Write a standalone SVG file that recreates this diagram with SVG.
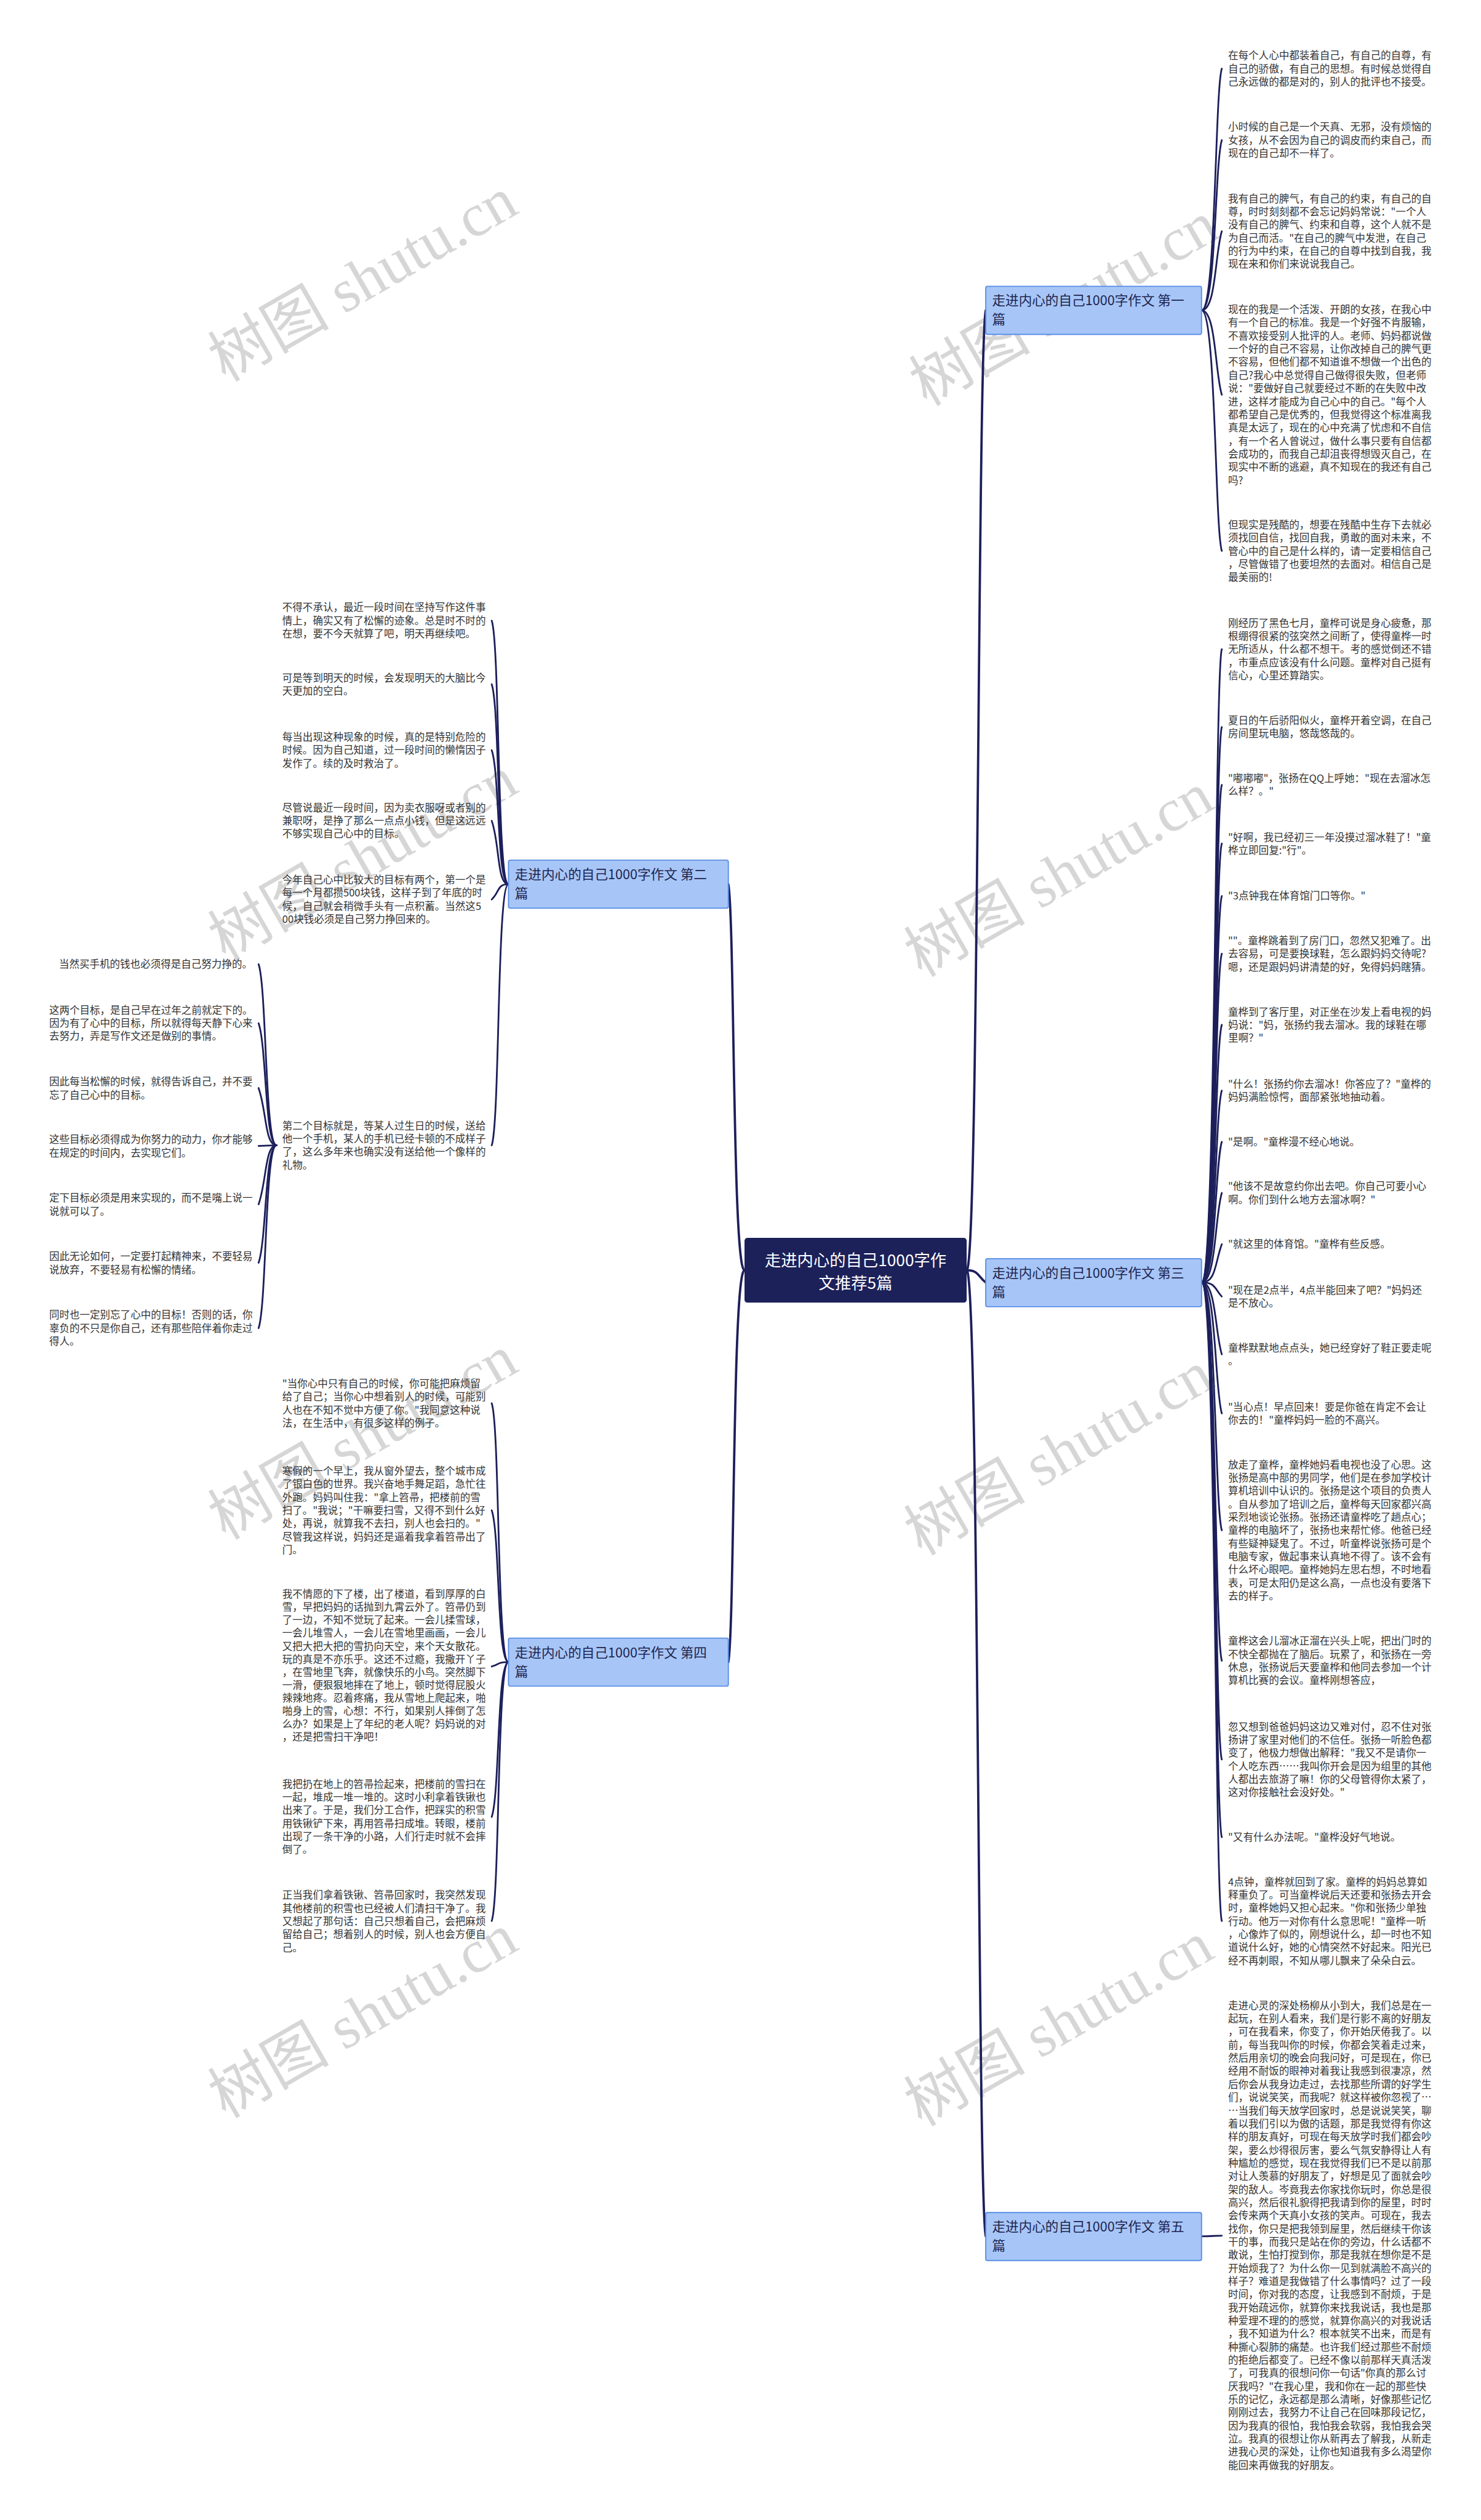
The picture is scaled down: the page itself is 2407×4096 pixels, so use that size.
<svg xmlns="http://www.w3.org/2000/svg" width="2407" height="4096" viewBox="0 0 2407 4096">
<style>
.t{font-family:"Noto Sans CJK SC","Noto Sans",sans-serif;font-size:17.6px;fill:#333333}
.bn{fill:#a7c6f7;stroke:#5a8ee6;stroke-width:2}
.bt{font-family:"Noto Sans CJK SC","Noto Sans",sans-serif;font-size:23px;fill:#1e2550}
.ct{font-family:"Noto Sans CJK SC","Noto Sans",sans-serif;font-size:28px;fill:#ffffff}
.c{fill:none;stroke:#1c1f5a;stroke-width:3;stroke-linecap:round}
.cm{fill:none;stroke:#1c1f5a;stroke-width:4;stroke-linecap:round}
.wm{font-family:"Liberation Serif","Noto Sans CJK SC",serif;font-size:105px;fill:#d6d6d6}
</style>
<rect width="2407" height="4096" fill="#ffffff"/>
<g transform="scale(0.9402)">
<g id="watermarks">
<text class="wm" text-anchor="middle" transform="translate(645,514) rotate(-30)">树图 shutu.cn</text>
<text class="wm" text-anchor="middle" transform="translate(1857,556) rotate(-30)">树图 shutu.cn</text>
<text class="wm" text-anchor="middle" transform="translate(645,1515) rotate(-30)">树图 shutu.cn</text>
<text class="wm" text-anchor="middle" transform="translate(1848,1543) rotate(-30)">树图 shutu.cn</text>
<text class="wm" text-anchor="middle" transform="translate(645,2516) rotate(-30)">树图 shutu.cn</text>
<text class="wm" text-anchor="middle" transform="translate(1848,2543) rotate(-30)">树图 shutu.cn</text>
<text class="wm" text-anchor="middle" transform="translate(645,3516) rotate(-30)">树图 shutu.cn</text>
<text class="wm" text-anchor="middle" transform="translate(1848,3530) rotate(-30)">树图 shutu.cn</text>
</g>
<g id="connectors">
<path class="cm" d="M1671 2196 C1692 2196 1690 596.5 1704 536.5"/>
<path class="cm" d="M1671 2196 C1692 2196 1690 2206.5 1704 2217"/>
<path class="cm" d="M1671 2196 C1692 2196 1690 3806 1704 3866"/>
<path class="cm" d="M1287 2196 C1266 2196 1270 1588.5 1259 1528.5"/>
<path class="cm" d="M1287 2196 C1266 2196 1270 2813.5 1259 2873.5"/>
<path class="c" d="M2077 536.5 C2102 536.5 2100 158.7 2112 118.7"/>
<path class="c" d="M2077 536.5 C2102 536.5 2100 282.3 2112 242.3"/>
<path class="c" d="M2077 536.5 C2102 536.5 2100 439.8 2112 399.8"/>
<path class="c" d="M2077 536.5 C2102 536.5 2100 642.5 2112 682.5"/>
<path class="c" d="M2077 536.5 C2102 536.5 2100 912.4 2112 952.4"/>
<path class="c" d="M2077 2217 C2102 2217 2100 1162.4 2112 1122.4"/>
<path class="c" d="M2077 2217 C2102 2217 2100 1296.9 2112 1256.9"/>
<path class="c" d="M2077 2217 C2102 2217 2100 1396.9 2112 1356.9"/>
<path class="c" d="M2077 2217 C2102 2217 2100 1498.4 2112 1458.4"/>
<path class="c" d="M2077 2217 C2102 2217 2100 1589 2112 1549"/>
<path class="c" d="M2077 2217 C2102 2217 2100 1688.7 2112 1648.7"/>
<path class="c" d="M2077 2217 C2102 2217 2100 1811.7 2112 1771.7"/>
<path class="c" d="M2077 2217 C2102 2217 2100 1925.4 2112 1885.4"/>
<path class="c" d="M2077 2217 C2102 2217 2100 2014 2112 1974"/>
<path class="c" d="M2077 2217 C2102 2217 2100 2102.4 2112 2062.4"/>
<path class="c" d="M2077 2217 C2102 2217 2100 2184 2112 2151"/>
<path class="c" d="M2077 2217 C2102 2217 2100 2229.2 2112 2241.4"/>
<path class="c" d="M2077 2217 C2102 2217 2100 2301.4 2112 2341.4"/>
<path class="c" d="M2077 2217 C2102 2217 2100 2403.4 2112 2443.4"/>
<path class="c" d="M2077 2217 C2102 2217 2100 2605.5 2112 2645.5"/>
<path class="c" d="M2077 2217 C2102 2217 2100 2831 2112 2871"/>
<path class="c" d="M2077 2217 C2102 2217 2100 3001.8 2112 3041.8"/>
<path class="c" d="M2077 2217 C2102 2217 2100 3136 2112 3176"/>
<path class="c" d="M2077 2217 C2102 2217 2100 3281 2112 3321"/>
<path class="c" d="M2077 3866 C2095 3866 2100 3865 2112 3865"/>
<path class="c" d="M879 1528.5 C859 1528.5 864 1113 850 1073"/>
<path class="c" d="M879 1528.5 C859 1528.5 864 1223 850 1183"/>
<path class="c" d="M879 1528.5 C859 1528.5 864 1337 850 1297"/>
<path class="c" d="M879 1528.5 C859 1528.5 864 1459 850 1419"/>
<path class="c" d="M879 1528.5 C859 1528.5 864 1541.8 850 1555"/>
<path class="c" d="M879 1528.5 C859 1528.5 864 1940 850 1980"/>
<path class="c" d="M478 1980 C458 1980 461 1707 447 1667"/>
<path class="c" d="M478 1980 C458 1980 461 1809 447 1769"/>
<path class="c" d="M478 1980 C458 1980 461 1921 447 1881"/>
<path class="c" d="M478 1980 C458 1980 461 1981 447 1981"/>
<path class="c" d="M478 1980 C458 1980 461 2042 447 2082"/>
<path class="c" d="M478 1980 C458 1980 461 2143 447 2183"/>
<path class="c" d="M478 1980 C458 1980 461 2256 447 2296"/>
<path class="c" d="M879 2873.5 C859 2873.5 864 2466 850 2426"/>
<path class="c" d="M879 2873.5 C859 2873.5 864 2651 850 2611"/>
<path class="c" d="M879 2873.5 C859 2873.5 864 2877 850 2881"/>
<path class="c" d="M879 2873.5 C859 2873.5 864 3101 850 3141"/>
<path class="c" d="M879 2873.5 C859 2873.5 864 3281 850 3321"/>
</g>
<g id="root">
<rect x="1287" y="2140" width="384" height="112" rx="5" fill="#1c2159"/>
<text class="ct" text-anchor="middle" x="1479" y="2189">走进内心的自己1000字作</text>
<text class="ct" text-anchor="middle" x="1479" y="2228">文推荐5篇</text>
</g>
<g id="b1">
<rect class="bn" x="1704" y="495" width="373" height="83" rx="3"/>
<text class="bt" x="1715" y="528">走进内心的自己1000字作文 第一</text>
<text class="bt" x="1715" y="561">篇</text>
</g>
<g id="b2">
<rect class="bn" x="879" y="1487" width="380" height="83" rx="3"/>
<text class="bt" x="890" y="1520">走进内心的自己1000字作文 第二</text>
<text class="bt" x="890" y="1553">篇</text>
</g>
<g id="b3">
<rect class="bn" x="1704" y="2176" width="373" height="83" rx="3"/>
<text class="bt" x="1715" y="2209">走进内心的自己1000字作文 第三</text>
<text class="bt" x="1715" y="2242">篇</text>
</g>
<g id="b4">
<rect class="bn" x="879" y="2832" width="380" height="83" rx="3"/>
<text class="bt" x="890" y="2865">走进内心的自己1000字作文 第四</text>
<text class="bt" x="890" y="2898">篇</text>
</g>
<g id="b5">
<rect class="bn" x="1704" y="3825" width="373" height="83" rx="3"/>
<text class="bt" x="1715" y="3858">走进内心的自己1000字作文 第五</text>
<text class="bt" x="1715" y="3891">篇</text>
</g>
<g id="a1"><text class="t" y="102.5"><tspan x="2123">在每个人心中都装着自己，有自己的自尊，有</tspan><tspan x="2123" dy="22.7">自己的骄傲，有自己的思想。有时候总觉得自</tspan><tspan x="2123" dy="22.7">己永远做的都是对的，别人的批评也不接受。</tspan></text></g>
<g id="a2"><text class="t" y="226"><tspan x="2123">小时候的自己是一个天真、无邪，没有烦恼的</tspan><tspan x="2123" dy="22.7">女孩，从不会因为自己的调皮而约束自己，而</tspan><tspan x="2123" dy="22.7">现在的自己却不一样了。</tspan></text></g>
<g id="a3"><text class="t" y="349.5"><tspan x="2123">我有自己的脾气，有自己的约束，有自己的自</tspan><tspan x="2123" dy="22.7">尊，时时刻刻都不会忘记妈妈常说："一个人</tspan><tspan x="2123" dy="22.7">没有自己的脾气、约束和自尊，这个人就不是</tspan><tspan x="2123" dy="22.7">为自己而活。"在自己的脾气中发泄，在自己</tspan><tspan x="2123" dy="22.7">的行为中约束，在自己的自尊中找到自我，我</tspan><tspan x="2123" dy="22.7">现在来和你们来说说我自己。</tspan></text></g>
<g id="a4"><text class="t" y="541.5"><tspan x="2123">现在的我是一个活泼、开朗的女孩，在我心中</tspan><tspan x="2123" dy="22.7">有一个自己的标准。我是一个好强不肯服输，</tspan><tspan x="2123" dy="22.7">不喜欢接受别人批评的人。老师、妈妈都说做</tspan><tspan x="2123" dy="22.7">一个好的自己不容易，让你改掉自己的脾气更</tspan><tspan x="2123" dy="22.7">不容易，但他们都不知道谁不想做一个出色的</tspan><tspan x="2123" dy="22.7">自己?我心中总觉得自己做得很失败，但老师</tspan><tspan x="2123" dy="22.7">说："要做好自己就要经过不断的在失败中改</tspan><tspan x="2123" dy="22.7">进，这样才能成为自己心中的自己。"每个人</tspan><tspan x="2123" dy="22.7">都希望自己是优秀的，但我觉得这个标准离我</tspan><tspan x="2123" dy="22.7">真是太远了，现在的心中充满了忧虑和不自信</tspan><tspan x="2123" dy="22.7">，有一个名人曾说过，做什么事只要有自信都</tspan><tspan x="2123" dy="22.7">会成功的，而我自己却沮丧得想毁灭自己，在</tspan><tspan x="2123" dy="22.7">现实中不断的逃避，真不知现在的我还有自己</tspan><tspan x="2123" dy="22.7">吗?</tspan></text></g>
<g id="a5"><text class="t" y="913.5"><tspan x="2123">但现实是残酷的，想要在残酷中生存下去就必</tspan><tspan x="2123" dy="22.7">须找回自信，找回自我，勇敢的面对未来，不</tspan><tspan x="2123" dy="22.7">管心中的自己是什么样的，请一定要相信自己</tspan><tspan x="2123" dy="22.7">，尽管做错了也要坦然的去面对。相信自己是</tspan><tspan x="2123" dy="22.7">最美丽的!</tspan></text></g>
<g id="c1"><text class="t" y="1083.5"><tspan x="2123">刚经历了黑色七月，童桦可说是身心疲惫，那</tspan><tspan x="2123" dy="22.7">根绷得很紧的弦突然之间断了，使得童桦一时</tspan><tspan x="2123" dy="22.7">无所适从，什么都不想干。考的感觉倒还不错</tspan><tspan x="2123" dy="22.7">，市重点应该没有什么问题。童桦对自己挺有</tspan><tspan x="2123" dy="22.7">信心，心里还算踏实。</tspan></text></g>
<g id="c2"><text class="t" y="1252"><tspan x="2123">夏日的午后骄阳似火，童桦开着空调，在自己</tspan><tspan x="2123" dy="22.7">房间里玩电脑，悠哉悠哉的。</tspan></text></g>
<g id="c3"><text class="t" y="1352"><tspan x="2123">"嘟嘟嘟"，张扬在QQ上呼她："现在去溜冰怎</tspan><tspan x="2123" dy="22.7">么样？。"</tspan></text></g>
<g id="c4"><text class="t" y="1453.5"><tspan x="2123">"好啊，我已经初三一年没摸过溜冰鞋了！"童</tspan><tspan x="2123" dy="22.7">桦立即回复:"行"。</tspan></text></g>
<g id="c5"><text class="t" y="1555.5"><tspan x="2123">"3点钟我在体育馆门口等你。"</tspan></text></g>
<g id="c6"><text class="t" y="1632.5"><tspan x="2123">""。童桦跳着到了房门口，忽然又犯难了。出</tspan><tspan x="2123" dy="22.7">去容易，可是要换球鞋，怎么跟妈妈交待呢?</tspan><tspan x="2123" dy="22.7">嗯，还是跟妈妈讲清楚的好，免得妈妈瞎猜。</tspan></text></g>
<g id="c7"><text class="t" y="1755.5"><tspan x="2123">童桦到了客厅里，对正坐在沙发上看电视的妈</tspan><tspan x="2123" dy="22.7">妈说："妈，张扬约我去溜冰。我的球鞋在哪</tspan><tspan x="2123" dy="22.7">里啊？"</tspan></text></g>
<g id="c8"><text class="t" y="1880.5"><tspan x="2123">"什么！张扬约你去溜冰！你答应了？"童桦的</tspan><tspan x="2123" dy="22.7">妈妈满脸惊愕，面部紧张地抽动着。</tspan></text></g>
<g id="c9"><text class="t" y="1980.5"><tspan x="2123">"是啊。"童桦漫不经心地说。</tspan></text></g>
<g id="c10"><text class="t" y="2057.5"><tspan x="2123">"他该不是故意约你出去吧。你自己可要小心</tspan><tspan x="2123" dy="22.7">啊。你们到什么地方去溜冰啊？"</tspan></text></g>
<g id="c11"><text class="t" y="2157.5"><tspan x="2123">"就这里的体育馆。"童桦有些反感。</tspan></text></g>
<g id="c12"><text class="t" y="2236.5"><tspan x="2123">"现在是2点半，4点半能回来了吧？"妈妈还</tspan><tspan x="2123" dy="22.7">是不放心。</tspan></text></g>
<g id="c13"><text class="t" y="2336.5"><tspan x="2123">童桦默默地点点头，她已经穿好了鞋正要走呢</tspan><tspan x="2123" dy="22.7">。</tspan></text></g>
<g id="c14"><text class="t" y="2438.5"><tspan x="2123">"当心点！早点回来！要是你爸在肯定不会让</tspan><tspan x="2123" dy="22.7">你去的！"童桦妈妈一脸的不高兴。</tspan></text></g>
<g id="c15"><text class="t" y="2538.5"><tspan x="2123">放走了童桦，童桦她妈看电视也没了心思。这</tspan><tspan x="2123" dy="22.7">张扬是高中部的男同学，他们是在参加学校计</tspan><tspan x="2123" dy="22.7">算机培训中认识的。张扬是这个项目的负责人</tspan><tspan x="2123" dy="22.7">。自从参加了培训之后，童桦每天回家都兴高</tspan><tspan x="2123" dy="22.7">采烈地谈论张扬。张扬还请童桦吃了趟点心；</tspan><tspan x="2123" dy="22.7">童桦的电脑坏了，张扬也来帮忙修。他爸已经</tspan><tspan x="2123" dy="22.7">有些疑神疑鬼了。不过，听童桦说张扬可是个</tspan><tspan x="2123" dy="22.7">电脑专家，做起事来认真地不得了。该不会有</tspan><tspan x="2123" dy="22.7">什么坏心眼吧。童桦她妈左思右想，不时地看</tspan><tspan x="2123" dy="22.7">表，可是太阳仍是这么高，一点也没有要落下</tspan><tspan x="2123" dy="22.7">去的样子。</tspan></text></g>
<g id="c16"><text class="t" y="2843.5"><tspan x="2123">童桦这会儿溜冰正溜在兴头上呢，把出门时的</tspan><tspan x="2123" dy="22.7">不快全都抛在了脑后。玩累了，和张扬在一旁</tspan><tspan x="2123" dy="22.7">休息，张扬说后天要童桦和他同去参加一个计</tspan><tspan x="2123" dy="22.7">算机比赛的会议。童桦刚想答应，</tspan></text></g>
<g id="c17"><text class="t" y="2991.5"><tspan x="2123">忽又想到爸爸妈妈这边又难对付，忍不住对张</tspan><tspan x="2123" dy="22.7">扬讲了家里对他们的不信任。张扬一听脸色都</tspan><tspan x="2123" dy="22.7">变了，他极力想做出解释："我又不是请你一</tspan><tspan x="2123" dy="22.7">个人吃东西……我叫你开会是因为组里的其他</tspan><tspan x="2123" dy="22.7">人都出去旅游了嘛！你的父母管得你太紧了，</tspan><tspan x="2123" dy="22.7">这对你接触社会没好处。"</tspan></text></g>
<g id="c18"><text class="t" y="3182.5"><tspan x="2123">"又有什么办法呢。"童桦没好气地说。</tspan></text></g>
<g id="c19"><text class="t" y="3259.5"><tspan x="2123">4点钟，童桦就回到了家。童桦的妈妈总算如</tspan><tspan x="2123" dy="22.7">释重负了。可当童桦说后天还要和张扬去开会</tspan><tspan x="2123" dy="22.7">时，童桦她妈又担心起来。"你和张扬少单独</tspan><tspan x="2123" dy="22.7">行动。他万一对你有什么意思呢！"童桦一听</tspan><tspan x="2123" dy="22.7">，心像炸了似的，刚想说什么，却一时也不知</tspan><tspan x="2123" dy="22.7">道说什么好，她的心情突然不好起来。阳光已</tspan><tspan x="2123" dy="22.7">经不再刺眼，不知从哪儿飘来了朵朵白云。</tspan></text></g>
<g id="e1"><text class="t" y="3473.5"><tspan x="2123">走进心灵的深处杨柳从小到大，我们总是在一</tspan><tspan x="2123" dy="22.7">起玩，在别人看来，我们是行影不离的好朋友</tspan><tspan x="2123" dy="22.7">，可在我看来，你变了，你开始厌倦我了。以</tspan><tspan x="2123" dy="22.7">前，每当我叫你的时候，你都会笑着走过来，</tspan><tspan x="2123" dy="22.7">然后用亲切的晚会向我问好，可是现在，你已</tspan><tspan x="2123" dy="22.7">经用不耐饭的眼神对着我让我感到很凄凉，然</tspan><tspan x="2123" dy="22.7">后你会从我身边走过，去找那些所谓的好学生</tspan><tspan x="2123" dy="22.7">们，说说笑笑，而我呢？就这样被你忽视了…</tspan><tspan x="2123" dy="22.7">…当我们每天放学回家时，总是说说笑笑，聊</tspan><tspan x="2123" dy="22.7">着以我们引以为傲的话题，那是我觉得有你这</tspan><tspan x="2123" dy="22.7">样的朋友真好，可现在每天放学时我们都会吵</tspan><tspan x="2123" dy="22.7">架，要么炒得很厉害，要么气氛安静得让人有</tspan><tspan x="2123" dy="22.7">种尴尬的感觉，现在我觉得我们已不是以前那</tspan><tspan x="2123" dy="22.7">对让人羡慕的好朋友了，好想是见了面就会吵</tspan><tspan x="2123" dy="22.7">架的敌人。岑竟我去你家找你玩时，你总是很</tspan><tspan x="2123" dy="22.7">高兴，然后很礼貌得把我请到你的屋里，时时</tspan><tspan x="2123" dy="22.7">会传来两个天真小女孩的笑声。可现在，我去</tspan><tspan x="2123" dy="22.7">找你，你只是把我领到屋里，然后继续干你该</tspan><tspan x="2123" dy="22.7">干的事，而我只是站在你的旁边，什么话都不</tspan><tspan x="2123" dy="22.7">敢说，生怕打搅到你，那是我就在想你是不是</tspan><tspan x="2123" dy="22.7">开始烦我了？为什么你一见到就满脸不高兴的</tspan><tspan x="2123" dy="22.7">样子？难道是我做错了什么事情吗？过了一段</tspan><tspan x="2123" dy="22.7">时间，你对我的态度，让我感到不耐烦，于是</tspan><tspan x="2123" dy="22.7">我开始疏远你，就算你来找我说话，我也是那</tspan><tspan x="2123" dy="22.7">种爱理不理的的感觉，就算你高兴的对我说话</tspan><tspan x="2123" dy="22.7">，我不知道为什么？根本就笑不出来，而是有</tspan><tspan x="2123" dy="22.7">种撕心裂肺的痛楚。也许我们经过那些不耐烦</tspan><tspan x="2123" dy="22.7">的拒绝后都变了。已经不像以前那样天真活泼</tspan><tspan x="2123" dy="22.7">了，可我真的很想问你一句话"你真的那么讨</tspan><tspan x="2123" dy="22.7">厌我吗？"在我心里，我和你在一起的那些快</tspan><tspan x="2123" dy="22.7">乐的记忆，永远都是那么清晰，好像那些记忆</tspan><tspan x="2123" dy="22.7">刚刚过去，我努力不让自己在回味那段记忆，</tspan><tspan x="2123" dy="22.7">因为我真的很怕，我怕我会软弱，我怕我会哭</tspan><tspan x="2123" dy="22.7">泣。我真的很想让你从新再去了解我，从新走</tspan><tspan x="2123" dy="22.7">进我心灵的深处，让你也知道我有多么渴望你</tspan><tspan x="2123" dy="22.7">能回来再做我的好朋友。</tspan></text></g>
<g id="d1"><text class="t" y="1056.5"><tspan x="488">不得不承认，最近一段时间在坚持写作这件事</tspan><tspan x="488" dy="22.7">情上，确实又有了松懈的迹象。总是时不时的</tspan><tspan x="488" dy="22.7">在想，要不今天就算了吧，明天再继续吧。</tspan></text></g>
<g id="d2"><text class="t" y="1178.5"><tspan x="488">可是等到明天的时候，会发现明天的大脑比今</tspan><tspan x="488" dy="22.7">天更加的空白。</tspan></text></g>
<g id="d3"><text class="t" y="1280.5"><tspan x="488">每当出现这种现象的时候，真的是特别危险的</tspan><tspan x="488" dy="22.7">时候。因为自己知道，过一段时间的懒惰因子</tspan><tspan x="488" dy="22.7">发作了。续的及时救治了。</tspan></text></g>
<g id="d4"><text class="t" y="1402.5"><tspan x="488">尽管说最近一段时间，因为卖衣服呀或者别的</tspan><tspan x="488" dy="22.7">兼职呀，是挣了那么一点点小钱，但是这远远</tspan><tspan x="488" dy="22.7">不够实现自己心中的目标。</tspan></text></g>
<g id="d5"><text class="t" y="1527.5"><tspan x="488">今年自己心中比较大的目标有两个，第一个是</tspan><tspan x="488" dy="22.7">每一个月都攒500块钱，这样子到了年底的时</tspan><tspan x="488" dy="22.7">候，自己就会稍微手头有一点积蓄。当然这5</tspan><tspan x="488" dy="22.7">00块钱必须是自己努力挣回来的。</tspan></text></g>
<g id="d6"><text class="t" y="1952.5"><tspan x="488">第二个目标就是，等某人过生日的时候，送给</tspan><tspan x="488" dy="22.7">他一个手机，某人的手机已经卡顿的不成样子</tspan><tspan x="488" dy="22.7">了，这么多年来也确实没有送给他一个像样的</tspan><tspan x="488" dy="22.7">礼物。</tspan></text></g>
<g id="g1"><text class="t" y="1673.5"><tspan x="102">当然买手机的钱也必须得是自己努力挣的。</tspan></text></g>
<g id="g2"><text class="t" y="1752.5"><tspan x="85">这两个目标，是自己早在过年之前就定下的。</tspan><tspan x="85" dy="22.7">因为有了心中的目标，所以就得每天静下心来</tspan><tspan x="85" dy="22.7">去努力，弄是写作文还是做别的事情。</tspan></text></g>
<g id="g3"><text class="t" y="1876.5"><tspan x="85">因此每当松懈的时候，就得告诉自己，并不要</tspan><tspan x="85" dy="22.7">忘了自己心中的目标。</tspan></text></g>
<g id="g4"><text class="t" y="1976.5"><tspan x="85">这些目标必须得成为你努力的动力，你才能够</tspan><tspan x="85" dy="22.7">在规定的时间内，去实现它们。</tspan></text></g>
<g id="g5"><text class="t" y="2077.5"><tspan x="85">定下目标必须是用来实现的，而不是嘴上说一</tspan><tspan x="85" dy="22.7">说就可以了。</tspan></text></g>
<g id="g6"><text class="t" y="2178.5"><tspan x="85">因此无论如何，一定要打起精神来，不要轻易</tspan><tspan x="85" dy="22.7">说放弃，不要轻易有松懈的情绪。</tspan></text></g>
<g id="g7"><text class="t" y="2279.5"><tspan x="85">同时也一定别忘了心中的目标！否则的话，你</tspan><tspan x="85" dy="22.7">辜负的不只是你自己，还有那些陪伴着你走过</tspan><tspan x="85" dy="22.7">得人。</tspan></text></g>
<g id="f1"><text class="t" y="2398.5"><tspan x="488">"当你心中只有自己的时候，你可能把麻烦留</tspan><tspan x="488" dy="22.7">给了自己；当你心中想着别人的时候，可能别</tspan><tspan x="488" dy="22.7">人也在不知不觉中方便了你。"我同意这种说</tspan><tspan x="488" dy="22.7">法，在生活中，有很多这样的例子。</tspan></text></g>
<g id="f2"><text class="t" y="2549.5"><tspan x="488">寒假的一个早上，我从窗外望去，整个城市成</tspan><tspan x="488" dy="22.7">了银白色的世界。我兴奋地手舞足蹈，急忙往</tspan><tspan x="488" dy="22.7">外跑。妈妈叫住我："拿上笤帚，把楼前的雪</tspan><tspan x="488" dy="22.7">扫了。"我说；"干嘛要扫雪，又得不到什么好</tspan><tspan x="488" dy="22.7">处，再说，就算我不去扫，别人也会扫的。"</tspan><tspan x="488" dy="22.7">尽管我这样说，妈妈还是逼着我拿着笤帚出了</tspan><tspan x="488" dy="22.7">门。</tspan></text></g>
<g id="f3"><text class="t" y="2762.5"><tspan x="488">我不情愿的下了楼，出了楼道，看到厚厚的白</tspan><tspan x="488" dy="22.4">雪，早把妈妈的话抛到九霄云外了。笤帚仍到</tspan><tspan x="488" dy="22.4">了一边，不知不觉玩了起来。一会儿揉雪球，</tspan><tspan x="488" dy="22.4">一会儿堆雪人，一会儿在雪地里画画，一会儿</tspan><tspan x="488" dy="22.4">又把大把大把的雪扔向天空，来个天女散花。</tspan><tspan x="488" dy="22.4">玩的真是不亦乐乎。这还不过瘾，我撒开丫子</tspan><tspan x="488" dy="22.4">，在雪地里飞奔，就像快乐的小鸟。突然脚下</tspan><tspan x="488" dy="22.4">一滑，便狠狠地摔在了地上，顿时觉得屁股火</tspan><tspan x="488" dy="22.4">辣辣地疼。忍着疼痛，我从雪地上爬起来，啪</tspan><tspan x="488" dy="22.4">啪身上的雪，心想：不行，如果别人摔倒了怎</tspan><tspan x="488" dy="22.4">么办？如果是上了年纪的老人呢？妈妈说的对</tspan><tspan x="488" dy="22.4">，还是把雪扫干净吧！</tspan></text></g>
<g id="f4"><text class="t" y="3090.5"><tspan x="488">我把扔在地上的笤帚捡起来，把楼前的雪扫在</tspan><tspan x="488" dy="22.7">一起，堆成一堆一堆的。这时小利拿着铁锹也</tspan><tspan x="488" dy="22.7">出来了。于是，我们分工合作，把踩实的积雪</tspan><tspan x="488" dy="22.7">用铁锹铲下来，再用笤帚扫成堆。转眼，楼前</tspan><tspan x="488" dy="22.7">出现了一条干净的小路，人们行走时就不会摔</tspan><tspan x="488" dy="22.7">倒了。</tspan></text></g>
<g id="f5"><text class="t" y="3282.5"><tspan x="488">正当我们拿着铁锹、笤帚回家时，我突然发现</tspan><tspan x="488" dy="22.7">其他楼前的积雪也已经被人们清扫干净了。我</tspan><tspan x="488" dy="22.7">又想起了那句话：自己只想着自己，会把麻烦</tspan><tspan x="488" dy="22.7">留给自己；想着别人的时候，别人也会方便自</tspan><tspan x="488" dy="22.7">己。</tspan></text></g>
</g>
</svg>
